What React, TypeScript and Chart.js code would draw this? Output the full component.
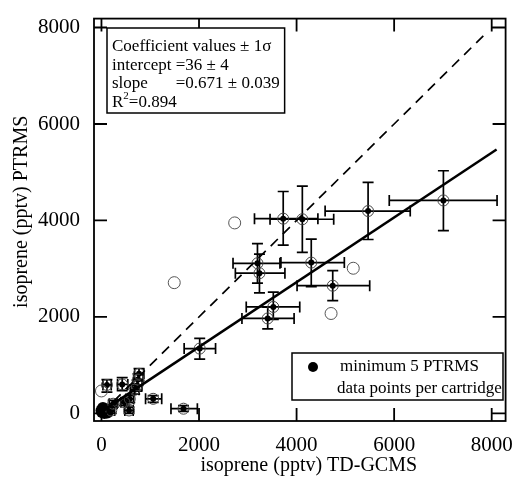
import React, { useEffect, useRef } from "react";
import { Chart, registerables } from "chart.js";

Chart.register(...registerables);

const FONT = "'Liberation Serif', 'Times New Roman', serif";

// tick values
const xTicks = [0, 2000, 4000, 6000, 8000];
const yTicks = [0, 2000, 4000, 6000, 8000];

// cartridge points (filled dot + ring) with x / y error ranges
const ptX = [7010, 5466, 3726, 4118, 3198, 3239, 4301, 4741, 3523, 3408, 2014, 1682, 1060, 112, 425, 770, 750, 730, 680, 580, 565, 470, 240, 200];
const ptY = [4415, 4195, 4037, 4025, 3112, 2906, 3126, 2647, 2207, 1968, 1343, 97, 302, 590, 600, 820, 700, 580, 490, 300, 60, 230, 200, 60];
const ptXLo = [5900, 4585, 3137, 3456, 2697, 2745, 3679, 4010, 2968, 2880, 1695, 1425, 904, 30, 330, 680, 660, 640, 600, 500, 480, 400, 160, 130];
const ptXHi = [8110, 6330, 4437, 4761, 3659, 3761, 4979, 5499, 4065, 3949, 2339, 1966, 1235, 200, 540, 870, 850, 830, 770, 660, 650, 540, 320, 270];
const ptYLo = [3790, 3605, 3490, 3338, 2700, 2500, 2626, 2338, 1950, 1750, 1125, 40, 230, 440, 470, 680, 580, 460, 400, 230, 0, 160, 130, 0];
const ptYHi = [5030, 4790, 4600, 4710, 3520, 3300, 3613, 2961, 2515, 2200, 1557, 160, 370, 700, 740, 930, 820, 690, 590, 370, 130, 300, 270, 130];

// open circles (no error bars)
const openX = [2731, 5162, 4707, 1492, 0];
const openY = [3949, 3009, 2071, 2710, 465];

// large filled points near origin
const blobX = [10, 40, 70, 100, 30, 60, 0, 120];
const blobY = [30, 70, 40, 80, 110, 10, 60, 20];

// fit line and 1:1 line
const fitX = [0, 8100];
const fitY = [36, 5471];
const oneX = [0, 7900];
const oneY = [0, 7900];

const toPts = (xs: number[], ys: number[]) => xs.map((v, i) => ({ x: v, y: ys[i] }));

const errPlugin = {
  id: "errbars",
  beforeDatasetsDraw(chart: any) {
    const { ctx, scales } = chart;
    const x = scales.x, y = scales.y;
    const ca = chart.chartArea;
    ctx.save();
    ctx.beginPath();
    ctx.rect(ca.left, ca.top, ca.right - ca.left, ca.bottom - ca.top);
    ctx.clip();
    ctx.strokeStyle = "#000";
    ctx.lineWidth = 1.7;
    const cap = 5.5;
    for (let i = 0; i < ptX.length; i++) {
      const px = x.getPixelForValue(ptX[i]);
      const py = y.getPixelForValue(ptY[i]);
      const xl = x.getPixelForValue(ptXLo[i]);
      const xh = x.getPixelForValue(ptXHi[i]);
      const yl = y.getPixelForValue(ptYLo[i]);
      const yh = y.getPixelForValue(ptYHi[i]);
      ctx.beginPath();
      ctx.moveTo(xl, py); ctx.lineTo(xh, py);
      ctx.moveTo(xl, py - cap); ctx.lineTo(xl, py + cap);
      ctx.moveTo(xh, py - cap); ctx.lineTo(xh, py + cap);
      ctx.moveTo(px, yl); ctx.lineTo(px, yh);
      ctx.moveTo(px - cap, yl); ctx.lineTo(px + cap, yl);
      ctx.moveTo(px - cap, yh); ctx.lineTo(px + cap, yh);
      ctx.stroke();
    }
    ctx.restore();
  },
};

const framePlugin = {
  id: "frame",
  afterDraw(chart: any) {
    const { ctx, scales } = chart;
    const x = scales.x, y = scales.y;
    const ca = chart.chartArea;
    const tl = 13;
    ctx.save();
    ctx.strokeStyle = "#000";
    ctx.lineWidth = 1.8;
    ctx.strokeRect(ca.left, ca.top, ca.right - ca.left, ca.bottom - ca.top);
    ctx.beginPath();
    xTicks.forEach((v) => {
      const p = x.getPixelForValue(v);
      ctx.moveTo(p, ca.bottom); ctx.lineTo(p, ca.bottom - tl);
      ctx.moveTo(p, ca.top); ctx.lineTo(p, ca.top + tl);
    });
    yTicks.forEach((v) => {
      const p = y.getPixelForValue(v);
      ctx.moveTo(ca.left, p); ctx.lineTo(ca.left + tl, p);
      ctx.moveTo(ca.right, p); ctx.lineTo(ca.right - tl, p);
    });
    ctx.stroke();

    // axis titles
    ctx.fillStyle = "#000";
    ctx.font = `20px ${FONT}`;
    ctx.textAlign = "center";
    ctx.textBaseline = "middle";
    ctx.fillText("isoprene (pptv) TD-GCMS", (ca.left + ca.right) / 2 + 9, 466);
    ctx.save();
    ctx.translate(22, (ca.top + ca.bottom) / 2 - 8);
    ctx.rotate(-Math.PI / 2);
    ctx.fillText("isoprene (pptv) PTRMS", 0, 0);
    ctx.restore();

    // coefficient box
    ctx.lineWidth = 1.5;
    ctx.font = `17px ${FONT}`;
    ctx.textAlign = "left";
    const tx = 112;
    const l1 = "Coefficient values \u00b1 1\u03c3";
    const l2 = "intercept =36 \u00b1 4";
    const l3b = "=0.671 \u00b1 0.039";
    const eqX = tx + ctx.measureText("intercept ").width;
    const w1 = ctx.measureText(l1).width;
    const w3 = eqX - tx + ctx.measureText(l3b).width;
    const boxR = tx + Math.max(w1, w3) + 5;
    ctx.fillStyle = "#fff";
    ctx.fillRect(107, 28, boxR - 107, 85);
    ctx.strokeRect(107, 28, boxR - 107, 85);
    ctx.fillStyle = "#000";
    ctx.fillText(l1, tx, 46.5);
    ctx.fillText(l2, tx, 65.5);
    ctx.fillText("slope", tx, 84);
    ctx.fillText(l3b, eqX, 84);
    ctx.fillText("R", tx, 102.5);
    const rw = ctx.measureText("R").width;
    ctx.font = `11px ${FONT}`;
    ctx.fillText("2", tx + rw, 96);
    const sw = ctx.measureText("2").width;
    ctx.font = `17px ${FONT}`;
    ctx.fillText("=0.894", tx + rw + sw, 102.5);

    // legend box
    ctx.fillStyle = "#fff";
    ctx.fillRect(292, 353, 211, 47);
    ctx.strokeRect(292, 353, 211, 47);
    ctx.fillStyle = "#000";
    ctx.beginPath();
    ctx.arc(313, 367, 5, 0, Math.PI * 2);
    ctx.fill();
    ctx.fillText("minimum 5 PTRMS", 340, 367);
    ctx.fillText("data points per cartridge", 337, 388.5);
    ctx.restore();
  },
};

export default function App() {
  const ref = useRef<HTMLCanvasElement | null>(null);
  useEffect(() => {
    if (!ref.current) return;
    const chart = new Chart(ref.current, {
      type: "scatter",
      data: {
        datasets: [
          {
            label: "1:1",
            data: toPts(oneX, oneY),
            showLine: true,
            borderColor: "#000",
            borderWidth: 1.7,
            borderDash: [10, 7],
            pointRadius: 0,
          },
          {
            label: "fit",
            data: toPts(fitX, fitY),
            showLine: true,
            borderColor: "#000",
            borderWidth: 2.5,
            pointRadius: 0,
          },
          {
            label: "open",
            data: toPts(openX, openY),
            pointRadius: 6,
            pointBorderColor: "#555",
            pointBackgroundColor: "rgba(0,0,0,0)",
            pointBorderWidth: 1,
          },
          {
            label: "ring",
            data: toPts(ptX, ptY),
            pointRadius: 5.5,
            pointBorderColor: "#444",
            pointBackgroundColor: "rgba(0,0,0,0)",
            pointBorderWidth: 1,
          },
          {
            label: "dot",
            data: toPts(ptX, ptY),
            pointRadius: 3,
            pointBorderColor: "#000",
            pointBackgroundColor: "#000",
            pointBorderWidth: 0,
          },
          {
            label: "blob",
            data: toPts(blobX, blobY),
            pointRadius: 6,
            pointBorderColor: "#000",
            pointBackgroundColor: "#000",
            pointBorderWidth: 0,
          },
        ],
      },
      options: {
        animation: false,
        responsive: false,
        events: [],
        layout: { padding: { top: 15, right: 9, left: 0, bottom: 0 } },
        plugins: { legend: { display: false }, tooltip: { enabled: false } },
        scales: {
          x: {
            type: "linear",
            min: -153,
            max: 8285,
            grid: { display: false },
            border: { display: false },
            afterBuildTicks: (s: any) => {
              s.ticks = xTicks.map((v) => ({ value: v }));
            },
            afterFit: (s: any) => {
              s.height = 61;
            },
            ticks: {
              font: { family: FONT, size: 21 },
              color: "#000",
              padding: 4,
              maxRotation: 0,
              autoSkip: false,
              callback: (v: any) => String(v),
            },
          },
          y: {
            type: "linear",
            min: -158,
            max: 8185,
            grid: { display: false },
            border: { display: false },
            afterBuildTicks: (s: any) => {
              s.ticks = yTicks.map((v) => ({ value: v }));
            },
            afterFit: (s: any) => {
              s.width = 94;
            },
            ticks: {
              font: { family: FONT, size: 21 },
              color: "#000",
              padding: 6,
              autoSkip: false,
              callback: (v: any) => String(v),
            },
          },
        },
      },
      plugins: [errPlugin, framePlugin],
    });
    return () => chart.destroy();
  }, []);
  return (
    <div style={{ position: "fixed", left: 0, top: 0, width: 517, height: 482, background: "#fff" }}>
      <canvas ref={ref} width={517} height={482} style={{ width: 517, height: 482, display: "block" }} />
    </div>
  );
}
